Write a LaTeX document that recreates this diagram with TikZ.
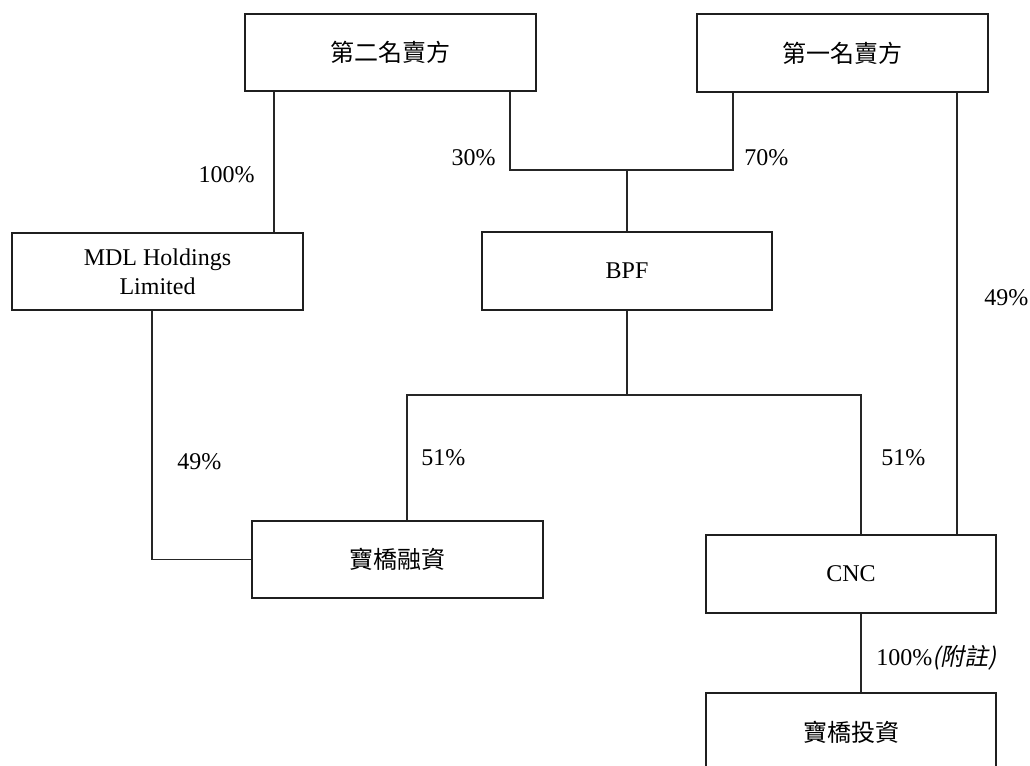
\documentclass[tikz,border=0pt]{standalone}
\usepackage{fontspec}
\setmainfont{Liberation Serif}
\newfontfamily\cjk{Noto Sans CJK TC}
\newfontfamily\cjkslant[FakeSlant=0.2]{Noto Sans CJK TC}
\begin{document}
\begin{tikzpicture}[x=0.75pt,y=0.75pt,yscale=-1,
    entity/.style={draw=black!88, line width=1.7pt, fill=white, minimum width=218pt,
      minimum height=58pt, inner sep=2pt, align=center, font=\fontsize{18}{21.75}\selectfont},
    share/.style={inner sep=0pt, font=\fontsize{18}{21.75}\selectfont},
    link/.style={draw=black!85, line width=0.9pt}]
    \useasboundingbox (0,0) rectangle (1030,766);
    % companies
    \node (sellerTwo) at (390.5,52.5) [entity] {\cjk 第二名賣方};
    \node (sellerOne) at (842.5,53) [entity] {\cjk 第一名賣方};
    \node (mdl) at (157.5,271.5) [entity] {MDL Holdings\\Limited};
    \node (bpf) at (627,271) [entity] {BPF};
    \node (finance) at (397.5,559.5) [entity] {\cjk 寶橋融資};
    \node (cnc) at (851,574) [entity] {CNC};
    \node (invest) at (851,732) [entity] {\cjk 寶橋投資};
    % junction points
    \coordinate (j100) at (274,0);
    \coordinate (j30) at (510,170);
    \coordinate (j70) at (733,170);
    \coordinate (jl) at (407,395);
    \coordinate (jr) at (861,395);
    \coordinate (j49) at (152,0);
    \coordinate (jr49) at (957,0);
    % holdings
    \draw [link] (sellerTwo.south -| j100) -- (mdl.north -| j100);
    \draw [link] (sellerTwo.south -| j30) |- (j70) -- (sellerOne.south -| j70);
    \draw [link] (bpf.north) -- (bpf.north |- j30);
    \draw [link] (bpf.south) -- (bpf.south |- jl);
    \draw [link] (finance.north -| jl) |- (jr) -- (cnc.north -| jr);
    \draw [link] (mdl.south -| j49) |- (finance.west);
    \draw [link] (sellerOne.south -| jr49) -- (cnc.north -| jr49);
    \draw [link] (cnc.south -| jr) -- (invest.north -| jr);
    % percentages
    \node (p100) at (255,175) [share, anchor=east] {100\%};
    \node (p30) at (496,158) [share, anchor=east] {30\%};
    \node (p70) at (744,158) [share, anchor=west] {70\%};
    \node (p49l) at (177,462) [share, anchor=west] {49\%};
    \node (p51l) at (421,458) [share, anchor=west] {51\%};
    \node (p51r) at (881,458) [share, anchor=west] {51\%};
    \node (p49r) at (984,298) [share, anchor=west] {49\%};
    \node (pnote) at (876,658) [share, anchor=west] {100\%{\cjkslant (附註)}};
\end{tikzpicture}
\end{document}
